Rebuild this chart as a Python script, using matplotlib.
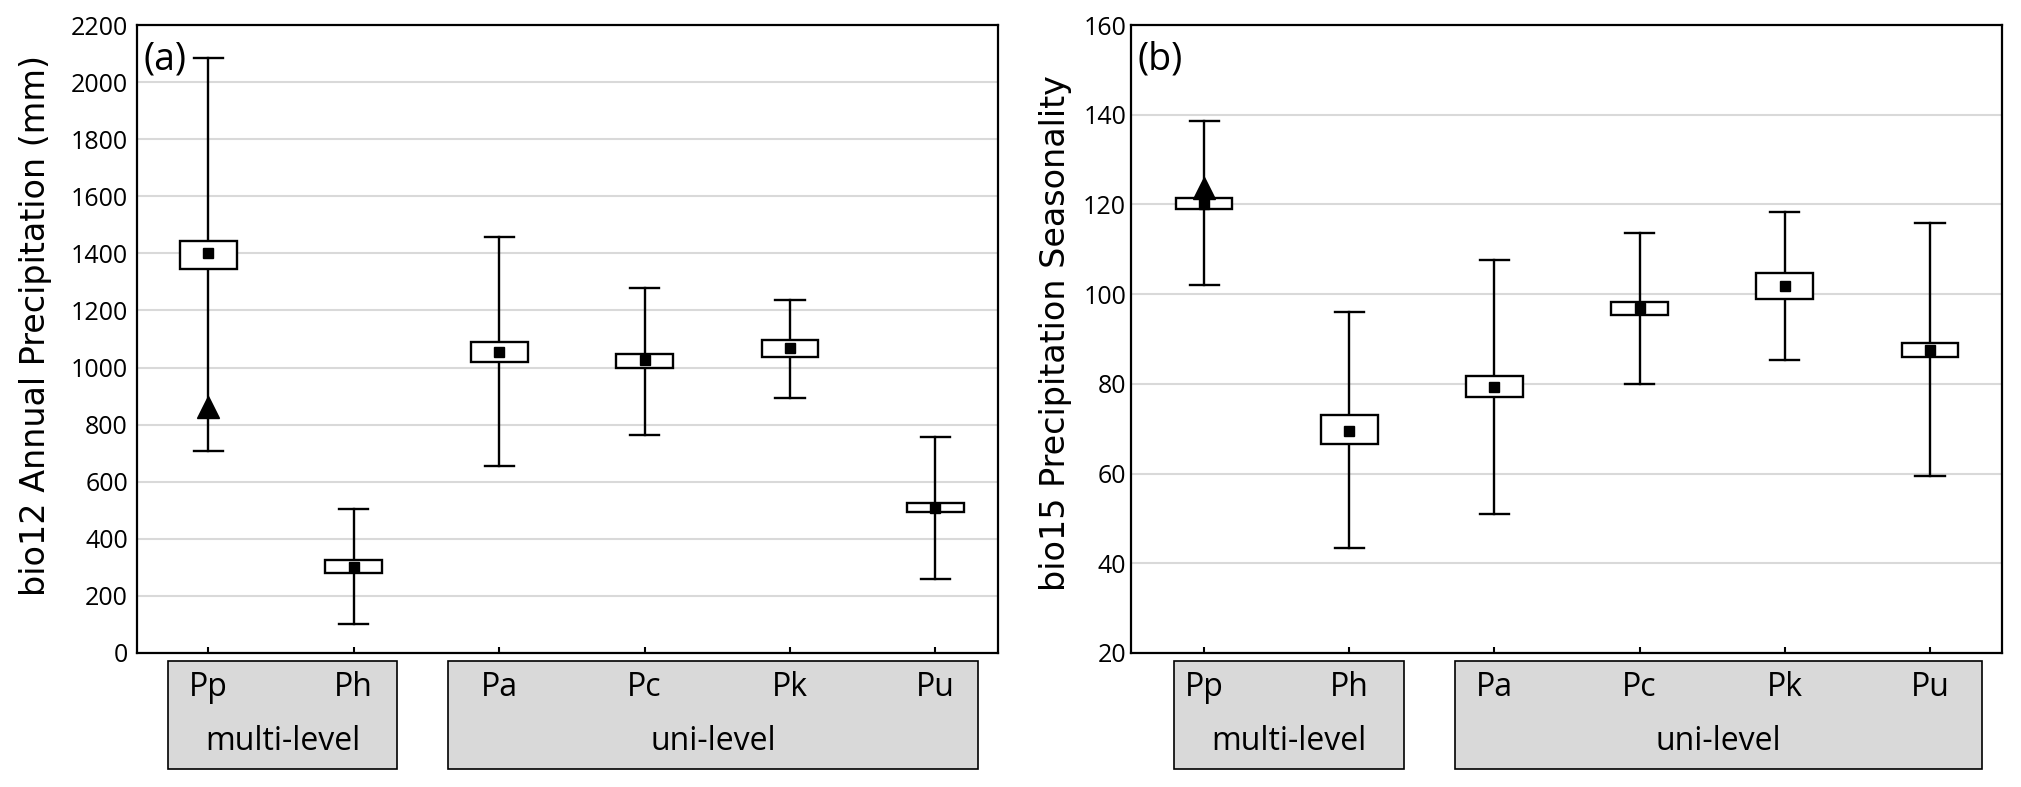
import numpy as np
import matplotlib
matplotlib.use("Agg")
import matplotlib.pyplot as plt
from matplotlib.patches import Rectangle

# species and grouping
species = ["Pp", "Ph", "Pa", "Pc", "Pk", "Pu"]
groups = ["multi-level", "uni-level"]

# bio12 annual precipitation (mm)
bio12_low = [708, 100, 655, 765, 895, 258]
bio12_q1 = [1345, 280, 1020, 999, 1036, 495]
bio12_mean = [1400, 300, 1053, 1026, 1070, 508]
bio12_q3 = [1445, 325, 1091, 1047, 1095, 525]
bio12_high = [2085, 505, 1459, 1280, 1238, 755]
bio12_extra = 862  # triangle for Pp

# bio15 precipitation seasonality
bio15_low = [102, 43.5, 51, 79.9, 85.3, 59.5]
bio15_q1 = [119, 66.5, 77.0, 95.3, 99.0, 85.9]
bio15_mean = [120, 69.5, 79.4, 96.9, 101.9, 87.5]
bio15_q3 = [121.5, 73, 81.8, 98.2, 104.7, 89.1]
bio15_high = [138.5, 96, 107.6, 113.6, 118.4, 115.8]
bio15_extra = 123.6

TEXT_FONT = "Open Sans"

fig = plt.figure(figsize=(20.21, 7.87), dpi=100)
ax1 = fig.add_axes([137 / 2021, 1 - 653 / 787, 861 / 2021, 628 / 787])
ax2 = fig.add_axes([1131 / 2021, 1 - 653 / 787, 871 / 2021, 628 / 787])


def draw_panel(ax, low, q1, mean, q3, high, extra, ylim, yticks, ylabel, tag,
               xlim, group_spans, label_x, label_y, ypad):
    x = np.arange(len(species))
    bw = 0.39
    for i in x:
        ax.plot([i, i], [low[i], high[i]], color="black", lw=1.7, zorder=3)
        ax.plot([i - 0.1, i + 0.1], [low[i], low[i]], color="black", lw=1.7, zorder=3)
        ax.plot([i - 0.1, i + 0.1], [high[i], high[i]], color="black", lw=1.7, zorder=3)
        ax.add_patch(Rectangle((i - bw / 2, q1[i]), bw, q3[i] - q1[i],
                               facecolor="white", edgecolor="black", lw=1.7, zorder=4))
    ax.plot(x[0], extra, marker="^", color="black", ms=16, ls="none", zorder=5)
    ax.plot(x, mean, marker="s", color="black", ms=7.5, ls="none", zorder=6)

    ax.set_xlim(*xlim)
    ax.set_ylim(*ylim)
    ax.set_yticks(yticks)
    ax.set_xticks(x)
    ax.set_xticklabels([])
    ax.grid(axis="y", color="#d9d9d9", lw=1.5, zorder=0)
    ax.set_axisbelow(True)
    ax.tick_params(axis="x", direction="in", length=4, width=1.5)
    ax.tick_params(axis="y", length=0, pad=ypad, labelsize=18)
    for lab in ax.get_yticklabels():
        lab.set_fontfamily(TEXT_FONT)
    for sp in ax.spines.values():
        sp.set_linewidth(1.6)

    ax.set_ylabel(ylabel, fontsize=24, family="DejaVu Sans")
    ax.yaxis.set_label_coords(label_x, label_y)
    ax.text(0.007, 0.975, tag, transform=ax.transAxes, ha="left", va="top",
            fontsize=27, family=TEXT_FONT)

    trans = ax.get_xaxis_transform()
    for (x0, x1), name in zip(group_spans, groups):
        ax.add_patch(Rectangle((x0, -0.185), x1 - x0, 0.172, transform=trans,
                               facecolor="#d9d9d9", edgecolor="black", lw=1.2,
                               clip_on=False))
        ax.text((x0 + x1) / 2, -0.1545, name, transform=trans, ha="center",
                va="baseline", fontsize=23, family=TEXT_FONT)
    for i, sp_name in enumerate(species):
        ax.text(i, -0.0685, sp_name, transform=trans, ha="center", va="baseline",
                fontsize=23, family=TEXT_FONT)


draw_panel(ax1, bio12_low, bio12_q1, bio12_mean, bio12_q3, bio12_high, bio12_extra,
           (0, 2200), np.arange(0, 2201, 200), "bio12 Annual Precipitation (mm)", "(a)",
           (-0.49, 5.43), [(-0.275, 1.30), (1.65, 5.29)], -0.099, 0.522, 6.5)
draw_panel(ax2, bio15_low, bio15_q1, bio15_mean, bio15_q3, bio15_high, bio15_extra,
           (20, 160), np.arange(20, 161, 20), "bio15 Precipitation Seasonality", "(b)",
           (-0.503, 5.496), [(-0.21, 1.38), (1.73, 5.36)], -0.068, 0.51, 3.5)

fig.savefig("out.png", dpi=100)
